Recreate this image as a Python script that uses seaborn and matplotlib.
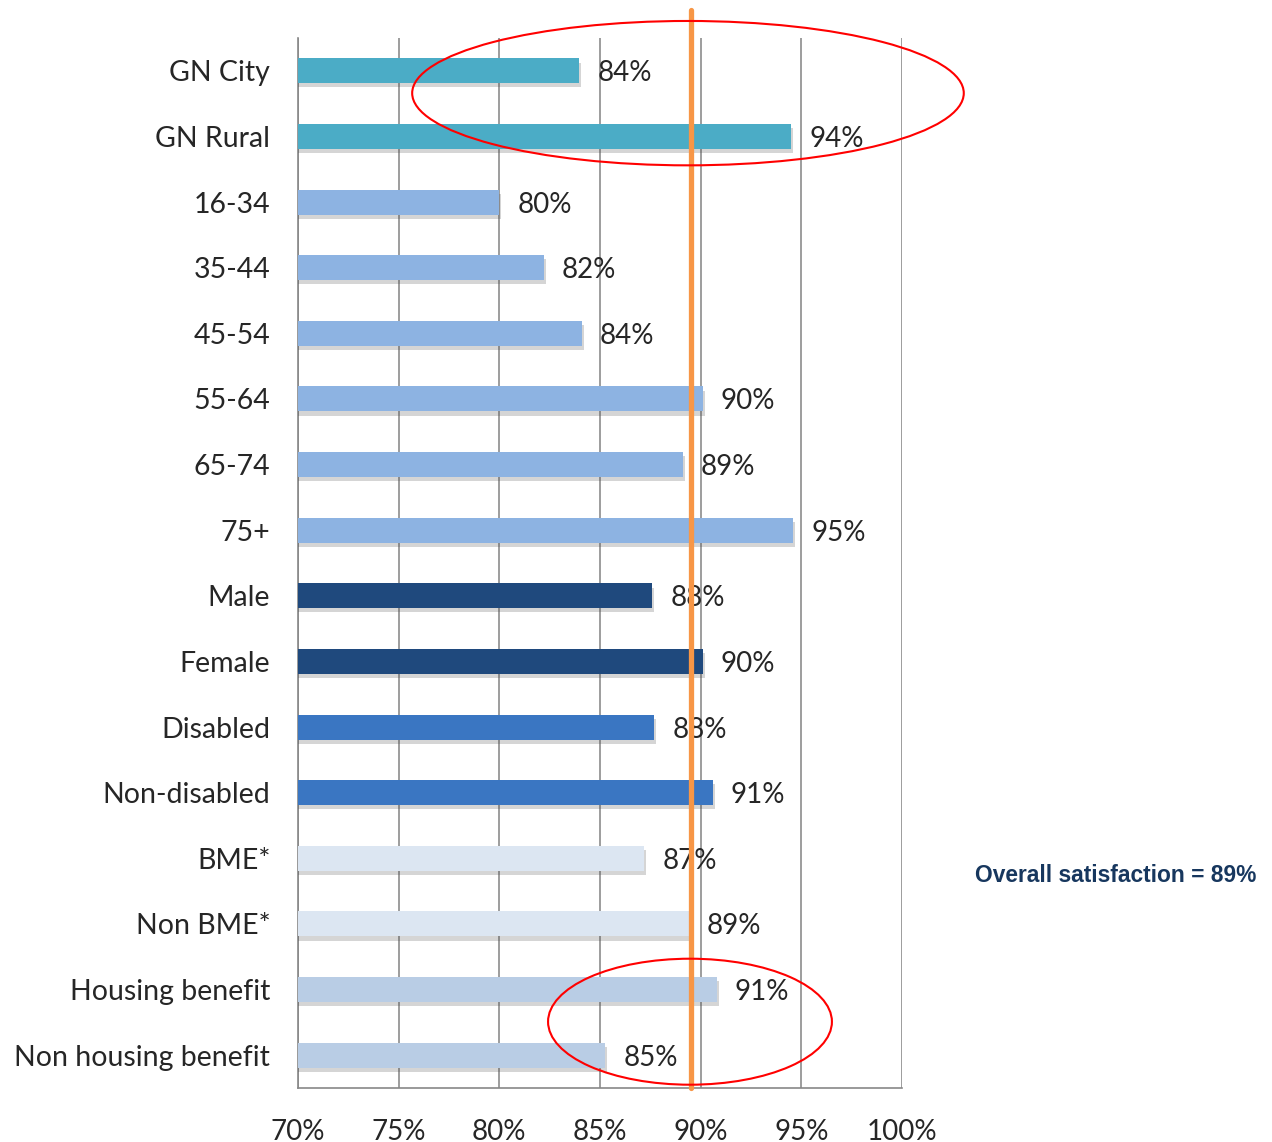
import numpy as np
import pandas as pd
import matplotlib
matplotlib.use('Agg')
import matplotlib.pyplot as plt
import matplotlib.patheffects as pe
from matplotlib.patches import Ellipse
import seaborn as sns

# data
groups = ['GN City', 'GN Rural', '16-34', '35-44', '45-54', '55-64', '65-74', '75+',
          'Male', 'Female', 'Disabled', 'Non-disabled', 'BME*', 'Non BME*',
          'Housing benefit', 'Non housing benefit']
satisfaction = [83.96, 94.5, 80.0, 82.2, 84.1, 90.1, 89.1, 94.6,
                87.6, 90.1, 87.7, 90.6, 87.2, 89.4, 90.8, 85.25]
labels = ['84%', '94%', '80%', '82%', '84%', '90%', '89%', '95%',
          '88%', '90%', '88%', '91%', '87%', '89%', '91%', '85%']
bar_colors = ['#4BACC6', '#4BACC6', '#8DB3E2', '#8DB3E2', '#8DB3E2', '#8DB3E2', '#8DB3E2', '#8DB3E2',
              '#1F497D', '#1F497D', '#3A76C2', '#3A76C2', '#DCE6F2', '#DCE6F2',
              '#B9CDE5', '#B9CDE5']
overall = 89.5

df = pd.DataFrame({'group': groups, 'satisfaction': satisfaction})

sns.set_style('white')
plt.rcParams['font.family'] = ['Lato', 'DejaVu Sans']

fig = plt.figure(figsize=(12.72, 11.42), dpi=100)
ax = fig.add_axes([0.2343, 0.0473, 0.4748, 0.9194])

sns.barplot(data=df, x='satisfaction', y='group', hue='group', palette=bar_colors,
            orient='h', width=0.38, saturation=1, legend=False, ax=ax, zorder=3,
            linewidth=0, edgecolor='none')

for p in ax.patches:
    p.set_path_effects([pe.SimplePatchShadow(offset=(1.5, -3), alpha=0.22, shadow_rgbFace='#444444'),
                        pe.Normal()])

for i, (v, lab) in enumerate(zip(satisfaction, labels)):
    ax.text(v + 0.9, i, lab, va='center_baseline', ha='left', fontsize=20, color='#262626', zorder=4)

ax.set_xlim(70, 100)
ax.set_ylim(len(groups) - 0.5, -0.5)
ax.set_xticks(np.arange(70, 101, 5))
ax.set_xticklabels([f'{t}%' for t in range(70, 101, 5)])
ax.set_yticks(range(len(groups)))
ax.set_yticks(np.arange(-0.5, len(groups), 1), minor=True)
ax.tick_params(axis='y', which='major', length=0, pad=20, labelsize=20.5, labelcolor='#262626')
ax.tick_params(axis='y', which='minor', length=8, color='#888888', width=1.2)
ax.tick_params(axis='x', which='major', length=8, color='#888888', width=1.2, pad=14,
               labelsize=20, labelcolor='#262626')
ax.set_xlabel('')
ax.set_ylabel('')
ax.grid(axis='x', color='#8c8c8c', linewidth=1.2, zorder=0)
ax.set_axisbelow(True)
for s in ['top', 'right']:
    ax.spines[s].set_visible(False)
for s in ['left', 'bottom']:
    ax.spines[s].set_color('#888888')
    ax.spines[s].set_linewidth(1.2)

# overall satisfaction line
ax.axvline(overall, ymin=0, ymax=1.027, color='#F79646', linewidth=3.8, zorder=5, clip_on=False)

# highlight ellipses
ax.add_patch(Ellipse((89.37, 0.34), 27.4, 2.2, fill=False, edgecolor='#FF0000',
                     linewidth=1.5, zorder=6, clip_on=False))
ax.add_patch(Ellipse((89.47, 14.49), 14.1, 1.92, fill=False, edgecolor='#FF0000',
                     linewidth=1.5, zorder=6, clip_on=False))

fig.text(0.9875, 0.2338, 'Overall satisfaction = 89%', ha='right', va='center',
         fontsize=16.4, fontweight='bold', color='#17375E', family=['Liberation Sans', 'DejaVu Sans'])

fig.savefig('out.png', dpi=100)
